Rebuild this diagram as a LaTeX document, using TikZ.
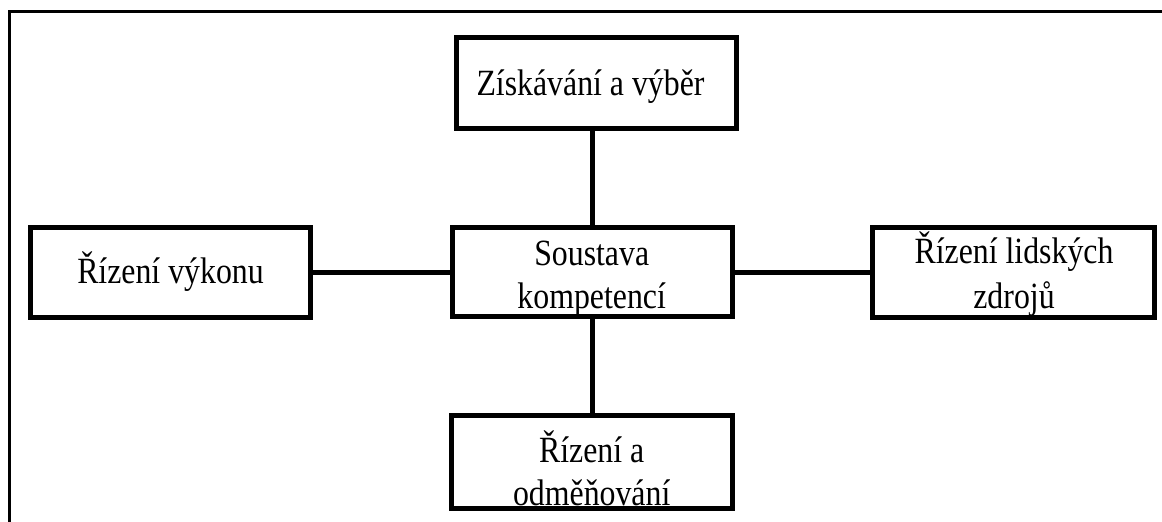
\documentclass[tikz,border=0pt]{standalone}
\usepackage{fontspec}
\setmainfont[FakeStretch=0.86]{Liberation Serif}
\begin{document}
\begin{tikzpicture}[x=1pt,y=-1pt,
  box/.style={draw=black,line width=5pt,inner sep=0pt,fill=white},
  wire/.style={draw=black,line width=5pt},
  lbl/.style={anchor=base,inner sep=0pt,font=\fontsize{37}{44}\selectfont}]
  \useasboundingbox (0,0) rectangle (1162,522);
  % frame
  \draw[line width=2.5pt] (9.5,522) -- (9.5,11.3) -- (1162,11.3);
  % boxes
  \node[box,minimum width=280pt,minimum height=91pt] (top) at (596,83) {};
  \node[box,minimum width=280.5pt,minimum height=89pt] (mid) at (592.25,272) {};
  \node[box,minimum width=280pt,minimum height=90pt] (left) at (170.5,272.5) {};
  \node[box,minimum width=281.5pt,minimum height=90pt] (right) at (1013.25,272.5) {};
  \node[box,minimum width=281pt,minimum height=93.5pt] (bot) at (592,461.75) {};
  % connectors
  \draw[wire] (mid.north) -- (mid.north |- top.south);
  \draw[wire] (mid.south) -- (mid.south |- bot.north);
  \draw[wire] (left.east) -- (left.east -| mid.west);
  \draw[wire] (mid.east |- right.west) -- (right.west);
  % labels
  \node[lbl] (ttop) at (590.5,95) {Získávání a výběr};
  \node[lbl] (tleft) at (170.5,283) {Řízení výkonu};
  \node[lbl] (tmid1) at (591.7,265) {Soustava};
  \node[lbl] (tmid2) at (591.7,308) {kompetencí};
  \node[lbl] (tright1) at (1014,263) {Řízení lidských};
  \node[lbl] (tright2) at (1014,308) {zdrojů};
  \node[lbl] (tbot1) at (591.7,462) {Řízení a};
  \node[lbl] (tbot2) at (591.7,505) {odměňování};
\end{tikzpicture}
\end{document}
